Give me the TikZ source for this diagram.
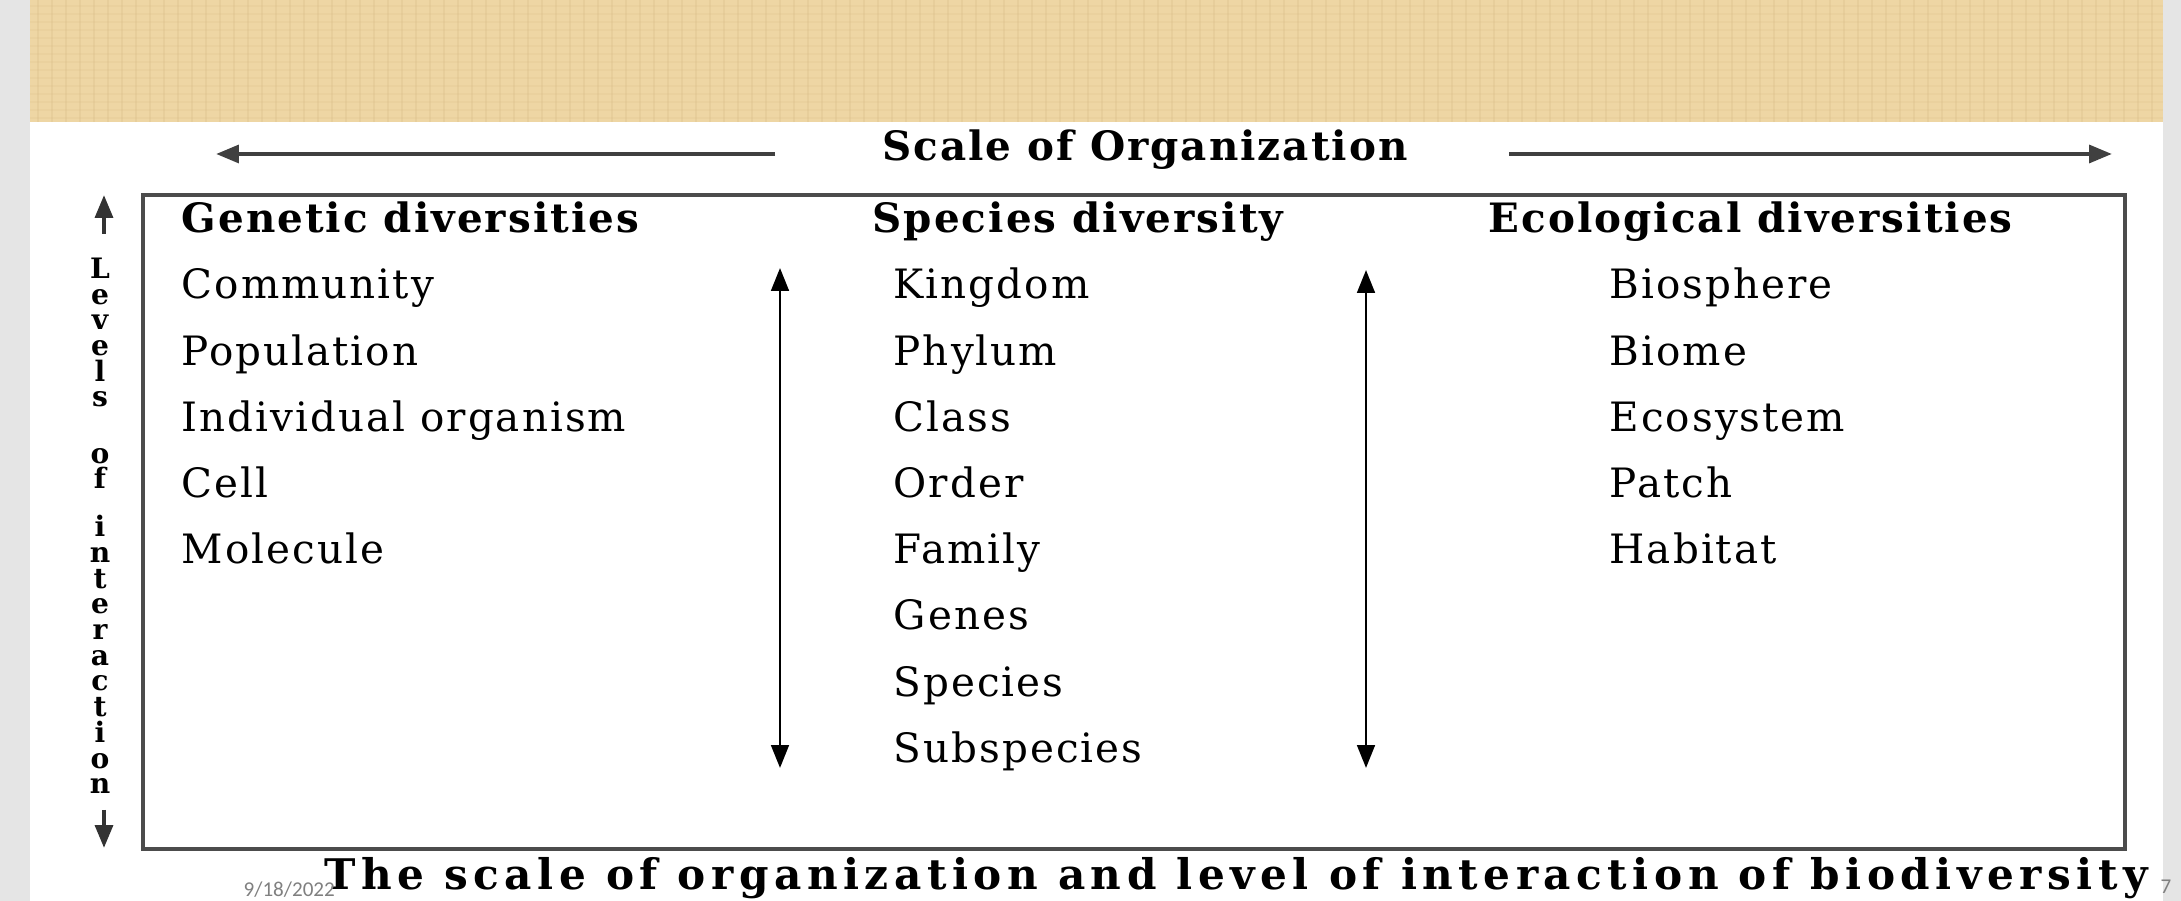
\documentclass[tikz,border=0pt]{standalone}
\usepackage{fontspec}
\setmainfont{DejaVu Serif}
\setsansfont{Carlito}
\newfontfamily\rowfont[LetterSpace=5]{DejaVu Serif}
\newfontfamily\capfont[LetterSpace=13]{DejaVu Serif}
\usetikzlibrary{arrows.meta}
\definecolor{linen}{RGB}{238,214,164}
\definecolor{linendark}{RGB}{212,184,130}
\definecolor{slidegray}{RGB}{229,229,229}
\def\rowsep{66.2}

\begin{document}
\begin{tikzpicture}[x=0.01cm,y=-0.01cm,>={Triangle[length=6.5pt,width=5pt]}]
    \tikzstyle{item}=[anchor=west,inner sep=0pt,text height=8.5pt,text depth=0pt,font=\rowfont\fontsize{11.5}{14}\selectfont]
    \tikzstyle{head}=[item,font=\rowfont\fontsize{11.5}{14}\selectfont\bfseries]
    \tikzstyle{vletter}=[inner sep=0pt,text height=5pt,text depth=0pt,font=\fontsize{8}{10}\selectfont\bfseries]
    \tikzstyle{scale arrow}=[->,line width=1.2pt,draw=black!75]
    \tikzstyle{level arrow}=[<->,line width=0.8pt]

    % Page, side margins and the linen banner
    \useasboundingbox (0,0) rectangle (2181,901);
    \fill[white] (0,0) rectangle (2181,901);
    \fill[slidegray] (0,0) rectangle (30,901);
    \fill[slidegray] (2163,0) rectangle (2181,901);
    \fill[linen] (30,0) rectangle (2163,122);
    \foreach \x in {38,52,...,2160}
        \draw[linendark,opacity=0.25,line width=0.4pt] (\x,0) -- (\x,122);
    \foreach \y in {6,14,...,120}
        \draw[linendark,opacity=0.15,line width=0.3pt] (30,\y) -- (2163,\y);

    % Scale of organization, with its two arrows
    \node[head,anchor=center] (scale) at (1145,146) {Scale of Organization};
    \coordinate (sc-l0) at (775,154);
    \coordinate (sc-l1) at (216,154);
    \coordinate (sc-r0) at (1509,154);
    \coordinate (sc-r1) at (2112,154);
    \draw[scale arrow] (sc-l0) -- (sc-l1);
    \draw[scale arrow] (sc-r0) -- (sc-r1);

    % Frame round the three columns
    \draw[line width=1pt,draw=black!70] (143,195) rectangle (2125,849);

    % Levels of interaction, written downwards
    \coordinate (lv-a) at (104,234);
    \coordinate (lv-top) at (104,195);
    \coordinate (lv-b) at (104,810);
    \coordinate (lv-bot) at (104,848);
    \draw[->,line width=1.2pt,draw=black!80] (lv-a) -- (lv-top);
    \draw[->,line width=1.2pt,draw=black!80] (lv-b) -- (lv-bot);
    \foreach \ch [count=\i] in {L,e,v,e,l,s}
        \node[vletter] (lv-w1-\i) at (100,{270+25.6*(\i-1)}) {\ch};
    \foreach \ch [count=\i] in {o,f}
        \node[vletter] (lv-w2-\i) at (100,{455+25*(\i-1)}) {\ch};
    \foreach \ch [count=\i] in {i,n,t,e,r,a,c,t,i,o,n}
        \node[vletter] (lv-w3-\i) at (100,{528+25.7*(\i-1)}) {\ch};

    % Column headings
    \node[head] (gen) at (181,218) {Genetic diversities};
    \node[head] (spe) at (872,218) {Species diversity};
    \node[head] (eco) at (1488,218) {Ecological diversities};

    % Rows of each column
    \foreach \name [count=\i] in {Community,Population,Individual organism,Cell,Molecule}
        \node[item] (G-\i) at (181,{284+\rowsep*(\i-1)}) {\name};
    \foreach \name [count=\i] in {Kingdom,Phylum,Class,Order,Family,Genes,Species,Subspecies}
        \node[item] (S-\i) at (893,{284+\rowsep*(\i-1)}) {\name};
    \foreach \name [count=\i] in {Biosphere,Biome,Ecosystem,Patch,Habitat}
        \node[item] (E-\i) at (1609,{284+\rowsep*(\i-1)}) {\name};

    % Double arrows between the columns
    \coordinate (sp-top) at (780,268);
    \coordinate (sp-bot) at (780,768);
    \coordinate (ec-top) at (1366,270);
    \coordinate (ec-bot) at (1366,768);
    \draw[level arrow] (sp-top) -- (sp-bot);
    \draw[level arrow] (ec-top) -- (ec-bot);

    % Caption, date and slide number
    \node[anchor=base,inner sep=0pt,font=\capfont\fontsize{12}{14}\selectfont\bfseries] (caption) at (1236,890)
        {The scale of organization and level of interaction of biodiversity};
    \node[anchor=base west,inner sep=0pt,text=black!50,font=\sffamily\fontsize{6}{7}\selectfont] (date) at (243,897) {9/18/2022};
    \node[anchor=base west,inner sep=0pt,text=black!50,font=\sffamily\fontsize{6}{7}\selectfont] (num) at (2160,894) {7};
\end{tikzpicture}
\end{document}
